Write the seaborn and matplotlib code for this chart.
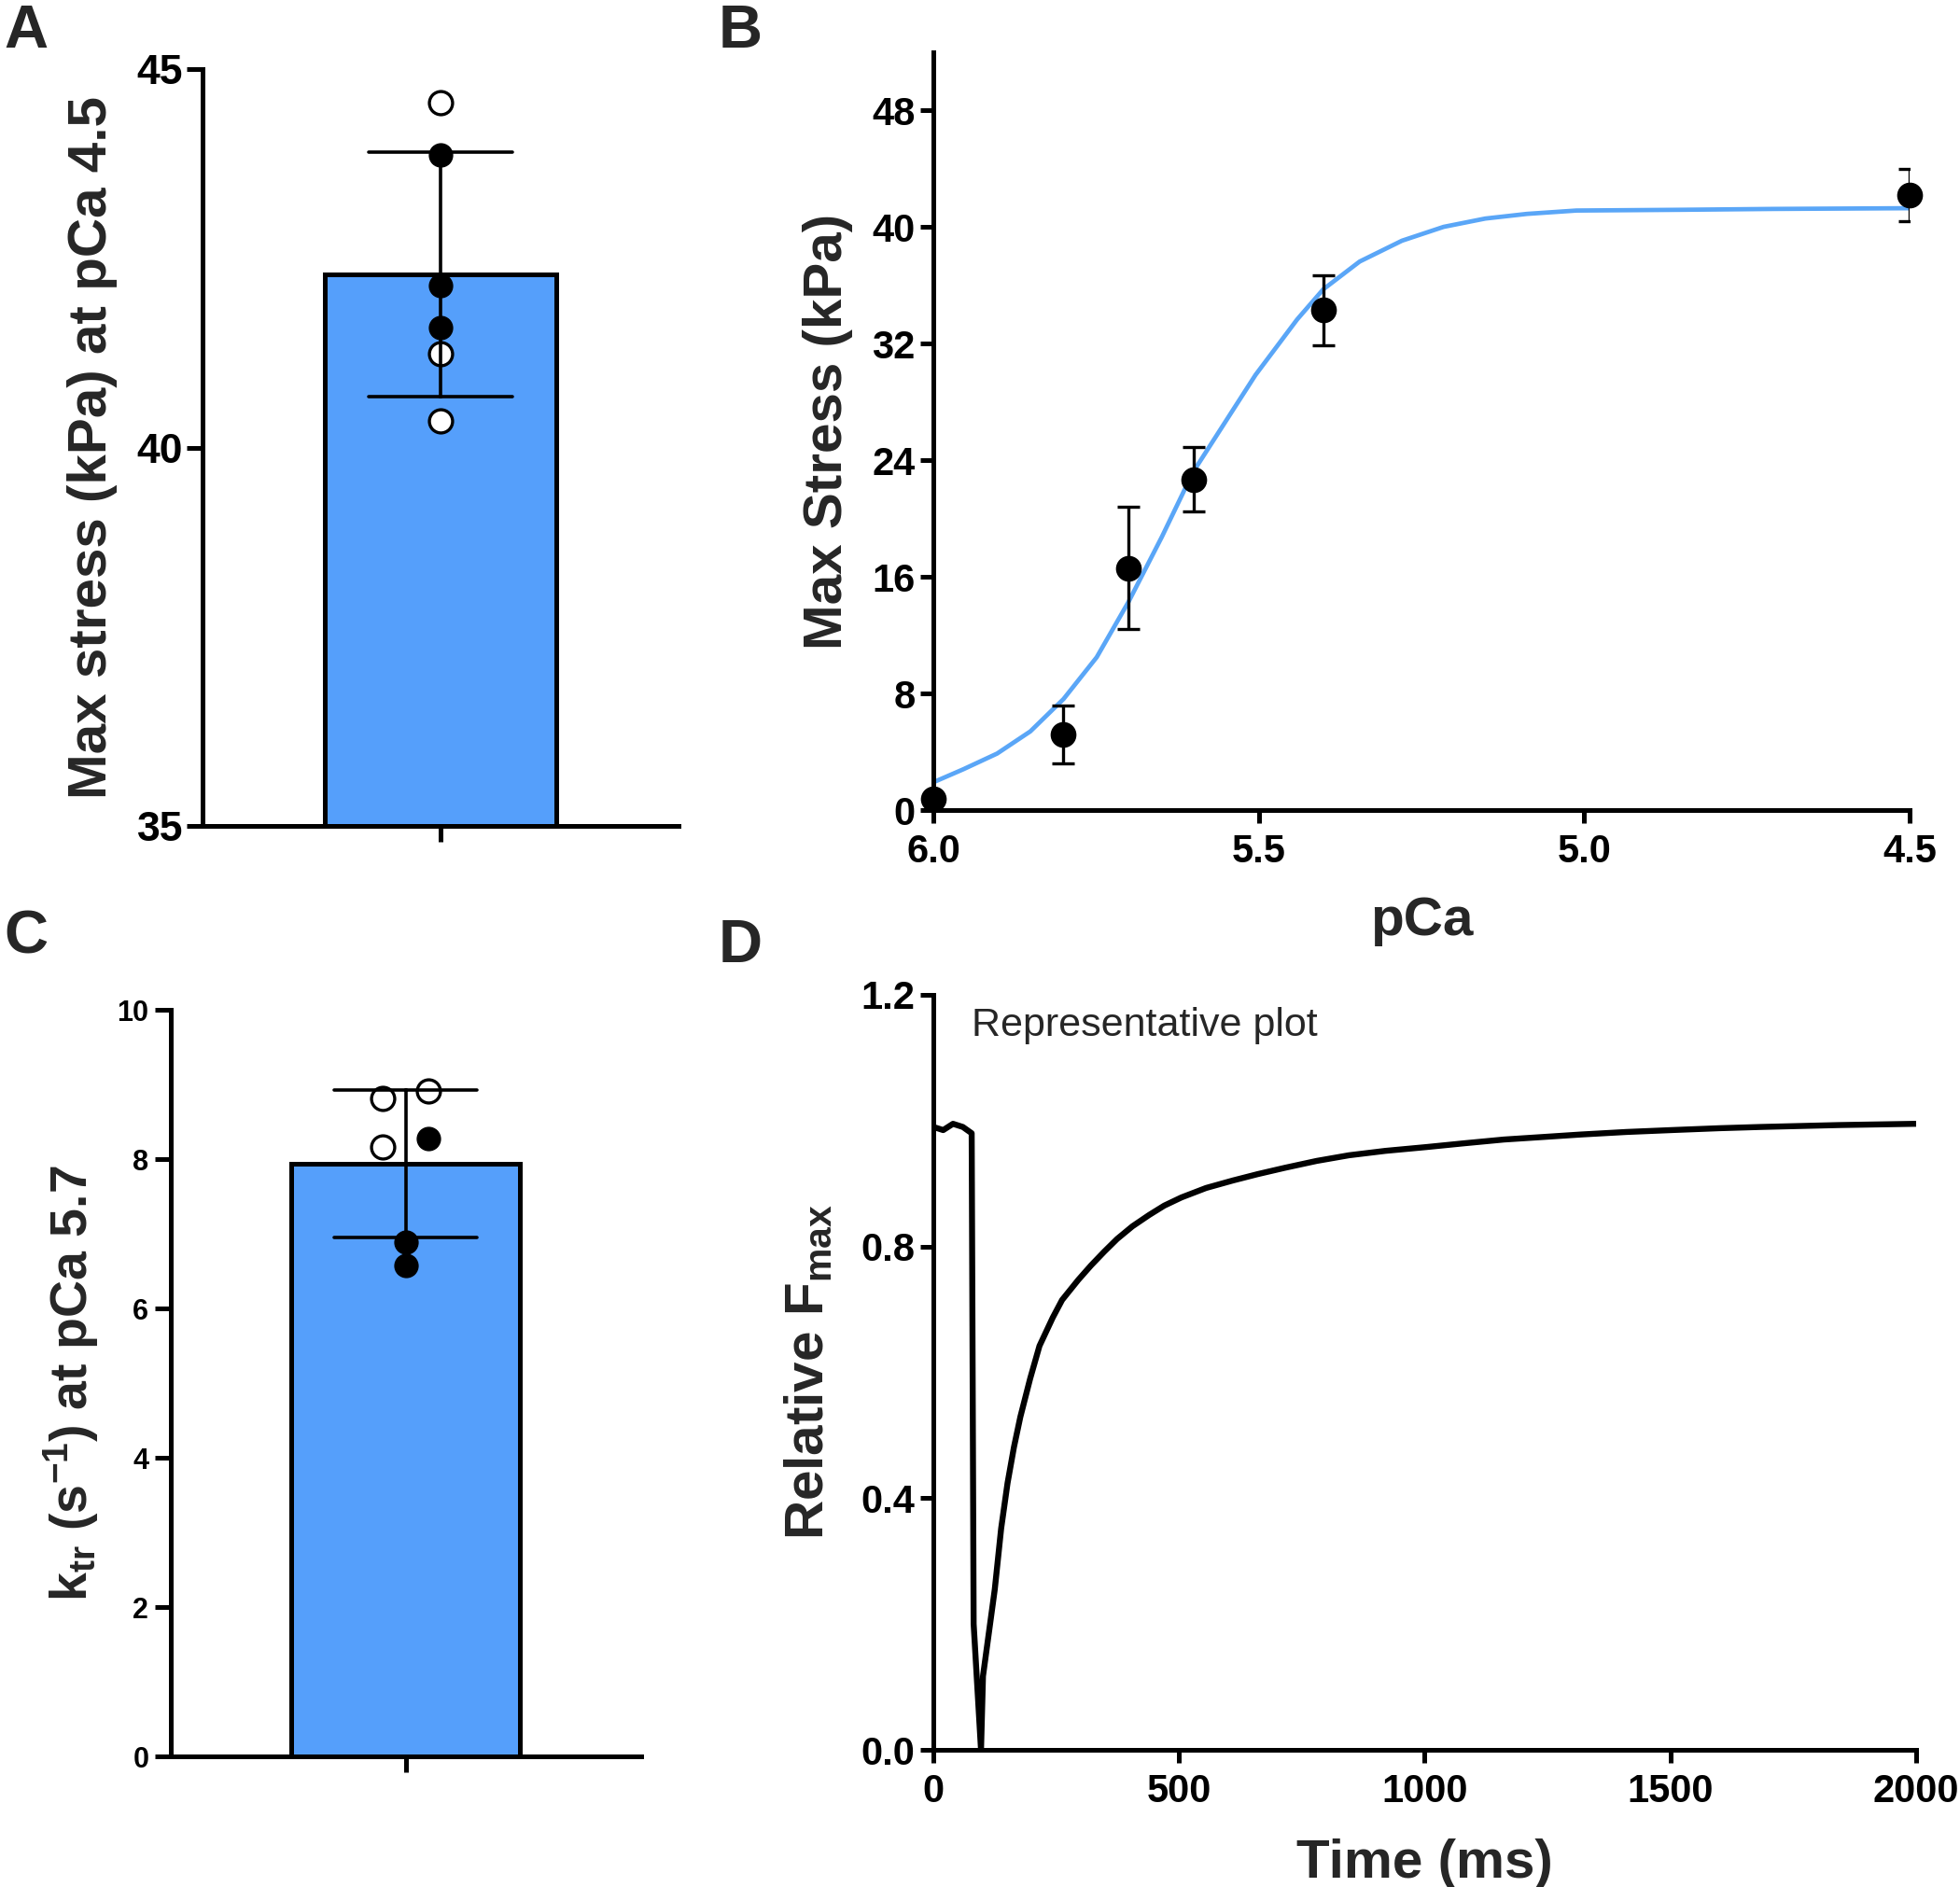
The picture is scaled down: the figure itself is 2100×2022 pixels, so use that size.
import matplotlib
matplotlib.use("Agg")
import matplotlib.pyplot as plt
import seaborn as sns

sns.set_theme(style="ticks")

params = {'font.family': ['Liberation Sans', 'DejaVu Sans'],
          'font.weight': 'bold',
          'axes.labelweight': 'bold',
          'mathtext.fontset': 'custom',
          'mathtext.rm': 'Liberation Sans:bold',
          'mathtext.it': 'Liberation Sans:bold',
          'mathtext.bf': 'Liberation Sans:bold',
          'axes.linewidth': 3.6,
          'axes.edgecolor': 'black',
          'xtick.color': 'black',
          'ytick.color': 'black',
          'xtick.major.width': 3.6,
          'ytick.major.width': 3.6,
          'xtick.major.size': 10,
          'ytick.major.size': 10,
          'xtick.direction': 'out',
          'ytick.direction': 'out'}
plt.rcParams.update(params)

BAR_BLUE = "#559FFB"
LINE_BLUE = "#5AA6F7"

# A: max stress at pCa 4.5 (kPa), open and filled symbols
stress_open = [44.56, 41.24, 40.35]
stress_filled = [43.86, 42.14, 41.59]

# B: force-pCa relation, mean +/- error and fitted curve
pca_levels = [6.0, 5.8, 5.7, 5.6, 5.4, 4.5]
stress_mean = [0.8, 5.2, 16.6, 22.7, 34.3, 42.2]
stress_err = [0.2, 2.0, 4.2, 2.2, 2.4, 1.8]
fit_pca = [6.0, 5.954, 5.902, 5.851, 5.80, 5.749, 5.70, 5.649, 5.601,
           5.537, 5.505, 5.441, 5.401, 5.345, 5.28, 5.216, 5.152, 5.088,
           5.012, 4.854, 4.71, 4.5]
fit_stress = [1.91, 2.80, 3.88, 5.40, 7.62, 10.49, 14.30, 18.74, 23.19,
              27.64, 29.86, 33.67, 35.73, 37.64, 39.07, 40.02, 40.59, 40.91,
              41.14, 41.19, 41.25, 41.3]

# C: ktr at pCa 5.7 (s^-1), open and filled symbols
ktr_open = [8.81, 8.92, 8.17]
ktr_filled = [8.28, 6.89, 6.58]

# D: representative force redevelopment trace
time_ms = [0, 20, 40, 60, 78, 82, 97, 101, 125, 138, 151, 164, 177, 197,
           216, 243, 262, 295, 321, 348, 374, 405, 439, 470, 505, 555, 610,
           660, 715, 780, 846, 920, 1003, 1080, 1161, 1240, 1318, 1410,
           1502, 1600, 1685, 1843, 2000]
rel_fmax = [0.99, 0.985, 0.995, 0.99, 0.98, 0.2, 0.0, 0.117, 0.255, 0.352,
            0.424, 0.481, 0.529, 0.590, 0.642, 0.687, 0.715, 0.747, 0.770,
            0.792, 0.812, 0.832, 0.850, 0.865, 0.878, 0.893, 0.905, 0.915,
            0.925, 0.936, 0.945, 0.952, 0.958, 0.964, 0.970, 0.974, 0.978,
            0.982, 0.985, 0.988, 0.990, 0.993, 0.995]

# horizontal scatter of the symbols inside the bars
a_open_dx = [0, 0, 0]
a_filled_dx = [0, 0, 0]
c_open_dx = [-0.08, 0.08, -0.08]
c_filled_dx = [0.08, 0, 0]


def bar_panel(ax, open_vals, filled_vals, open_dx, filled_dx):
    """ Mean +/- SD bar with the individual values on top """
    sns.barplot(y=open_vals + filled_vals, ax=ax, color=BAR_BLUE,
                saturation=1, width=0.8, edgecolor="black", linewidth=3.6,
                errorbar="sd", capsize=0.5,
                err_kws={"color": "black", "linewidth": 2.6})
    sns.scatterplot(x=open_dx, y=open_vals, ax=ax, s=320, color="white",
                    edgecolor="black", linewidth=2.4, zorder=1.5)
    sns.scatterplot(x=filled_dx, y=filled_vals, ax=ax, s=320, color="black",
                    edgecolor="black", linewidth=1, zorder=1.5)
    ax.set_xlim(-0.823, 0.823)
    ax.set_xticks([0])
    ax.set_xticklabels([""])
    ax.set_xlabel("")
    sns.despine(ax=ax)


fig = plt.figure(figsize=(21, 20.22), dpi=100)
ax_a = fig.add_axes([0.1033, 0.5623, 0.2429, 0.4011])
ax_b = fig.add_axes([0.4762, 0.5707, 0.4981, 0.4016])
ax_c = fig.add_axes([0.0871, 0.0692, 0.2400, 0.3956])
ax_d = fig.add_axes([0.4762, 0.0727, 0.5014, 0.4001])

# A
bar_panel(ax_a, stress_open, stress_filled, a_open_dx, a_filled_dx)
ax_a.set_ylim(35, 45)
ax_a.set_yticks([35, 40, 45])
ax_a.tick_params(axis="both", labelsize=32, length=12, pad=3)
ax_a.set_ylabel("Max stress (kPa) at pCa 4.5", fontsize=42, va="center")
ax_a.yaxis.set_label_coords(-0.232, 0.5)

# B
sns.lineplot(x=fit_pca, y=fit_stress, sort=False, color=LINE_BLUE,
             linewidth=3.4, ax=ax_b)
ax_b.errorbar(pca_levels, stress_mean, yerr=stress_err, fmt="none",
              ecolor="black", elinewidth=2.4, capsize=8.5, capthick=2.4,
              zorder=3)
sns.scatterplot(x=pca_levels, y=stress_mean, color="black", s=340,
                edgecolor="black", ax=ax_b, zorder=4, clip_on=False)
ax_b.set_xlim(6.0, 4.5)
ax_b.set_ylim(0, 52)
ax_b.set_xticks([6.0, 5.5, 5.0, 4.5])
ax_b.set_xticklabels(["6.0", "5.5", "5.0", "4.5"])
ax_b.set_yticks([0, 8, 16, 24, 32, 40, 48])
ax_b.tick_params(axis="both", labelsize=30, length=10, pad=4)
ax_b.tick_params(axis="x", pad=8)
ax_b.set_xlabel("pCa", fontsize=42, va="center")
ax_b.xaxis.set_label_coords(0.5, -0.147)
ax_b.set_ylabel("Max Stress (kPa)", fontsize=42, va="center")
ax_b.yaxis.set_label_coords(-0.108, 0.5)
sns.despine(ax=ax_b)

# C
bar_panel(ax_c, ktr_open, ktr_filled, c_open_dx, c_filled_dx)
ax_c.set_ylim(0, 10)
ax_c.set_yticks([0, 2, 4, 6, 8, 10])
ax_c.tick_params(axis="both", labelsize=22, length=12, pad=5)
ax_c.set_ylabel(r"k$_{\mathrm{tr}}$ (s$^{\mathrm{-1}}$) at pCa 5.7",
                fontsize=40, va="center")
ax_c.yaxis.set_label_coords(-0.212, 0.5)

# D
sns.lineplot(x=time_ms, y=rel_fmax, sort=False, color="black",
             linewidth=4.6, ax=ax_d)
ax_d.set_xlim(0, 2000)
ax_d.set_ylim(0, 1.2)
ax_d.set_xticks([0, 500, 1000, 1500, 2000])
ax_d.set_yticks([0.0, 0.4, 0.8, 1.2])
ax_d.set_yticklabels(["0.0", "0.4", "0.8", "1.2"])
ax_d.tick_params(axis="both", labelsize=30, length=10, pad=4)
ax_d.tick_params(axis="x", pad=8)
ax_d.set_xlabel("Time (ms)", fontsize=42, va="center")
ax_d.xaxis.set_label_coords(0.5, -0.151)
ax_d.set_ylabel(r"Relative F$_{\mathrm{max}}$", fontsize=42, va="center")
ax_d.yaxis.set_label_coords(-0.126, 0.5)
ax_d.text(0.039, 0.9456, "Representative plot", transform=ax_d.transAxes,
          fontsize=31, fontweight="normal", va="baseline", ha="left")
sns.despine(ax=ax_d)

# panel letters
for letter, x, y in [("A", 0.002, 0.9748), ("B", 0.3667, 0.9748),
                     ("C", 0.002, 0.4946), ("D", 0.3667, 0.4901)]:
    fig.text(x, y, letter, fontsize=47, fontweight="bold", va="baseline")

fig.savefig("out.png", dpi=100)
